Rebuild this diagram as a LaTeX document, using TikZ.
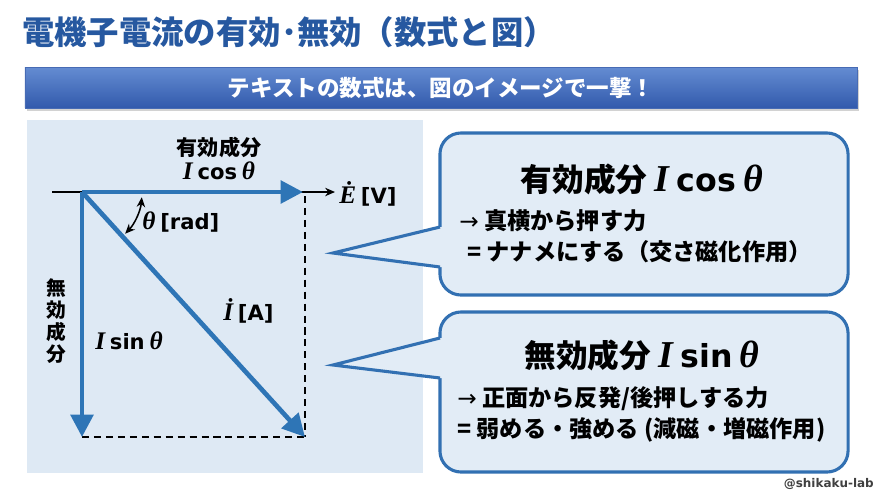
\documentclass[tikz,border=0pt]{standalone}
\usepackage{fontspec}
\usepackage{xcolor}
\usetikzlibrary{arrows.meta,shadows}
\setmainfont{Noto Sans CJK JP}
\newfontfamily\latsans{DejaVu Sans}
\newfontfamily\serifvar{Liberation Serif}[Scale=1.2]
\newcommand{\vi}[1]{{\serifvar\bfseries\itshape #1}}
\newcommand{\rarr}{{\latsans\mdseries →}}
\definecolor{vecBlue}{RGB}{46,117,182}
\definecolor{titleBlue}{RGB}{38,88,160}
\definecolor{panelBlue}{RGB}{222,233,244}
\definecolor{boxFill}{RGB}{226,236,246}
\definecolor{boxLine}{RGB}{50,112,178}
\definecolor{bannerTop}{RGB}{100,140,210}
\definecolor{bannerBottom}{RGB}{50,90,172}

\begin{document}
\begin{tikzpicture}[x=0.025cm, y=-0.025cm,
  vec/.style={vecBlue, line width=3.3pt, -{Triangle[length=16pt,width=16pt]}},
  guide/.style={dashed, dash pattern=on 5pt off 3.5pt, line width=1.1pt},
  callbox/.style={draw=boxLine, fill=boxFill, line width=2.2pt, rounded corners=15pt, minimum width=10.2cm},
  lbl/.style={inner sep=0pt, font=\bfseries\fontsize{15}{18}\selectfont},
  head/.style={inner sep=0pt, font=\bfseries\fontsize{22.5}{26}\selectfont},
  body/.style={inner sep=0pt, anchor=west, font=\bfseries\fontsize{16.5}{19}\selectfont}]
\useasboundingbox (0,0) rectangle (880,495);
\fill[white] (0,0) rectangle (880,495);
%
\node[anchor=west, inner sep=0pt, text=titleBlue, font=\bfseries\fontsize{23}{27}\selectfont] (title) at (22,32) {電機子電流の有効･無効（数式と図）};
\node[top color=bannerTop, bottom color=bannerBottom, draw=bannerBottom!90, line width=0.3pt,
  minimum width=20.8cm, minimum height=1.02cm, text=white, font=\bfseries\fontsize{16}{19}\selectfont,
  drop shadow={opacity=0.35, shadow xshift=1.5pt, shadow yshift=-2pt}] (banner) at (441,87.5) {テキストの数式は、図のイメージで一撃！};

%
\fill[panelBlue] (27,120) rectangle (423,473);
\coordinate (O) at (82,192);
\coordinate (axL) at (52,192);
\coordinate (axR) at (335,192);
\coordinate (Ecos) at (303,192);
\coordinate (Isin) at (82,437);
\coordinate (Itip) at (305,437);
\coordinate (Etop) at (305,196);
\draw[line width=1pt, -{Stealth[length=7pt,width=6pt]}] (axL) -- (axR);
\draw[guide] (Etop) -- (Itip);
\draw[guide] (Isin) -- (Itip);
\draw[vec] (O) -- (Ecos);
\draw[vec] (O) -- (Isin);
\draw[vec] (O) -- (Itip);
\draw[line width=1.1pt, {Stealth[length=7pt,width=6pt]}-{Stealth[length=7pt,width=6pt]}] ([shift={(5:60)}]O) arc[start angle=5, end angle=44, radius=60];

\node[lbl] (reLbl) at (219,147) {有効成分};
\node[lbl] (reFrm) at (219,171) {\vi{I} {\latsans cos} \vi{θ}};
\node[lbl, anchor=west] (thLbl) at (142,222) {\vi{θ} {\latsans [rad]}};
\node[lbl, anchor=west] (eLbl) at (339,194) {\vi{Ė} {\latsans [V]}};
\node[lbl, anchor=west] (iLbl) at (223,311) {\vi{İ} {\latsans [A]}};
\node[lbl, anchor=west] (imFrm) at (95,341) {\vi{I} {\latsans sin} \vi{θ}};
\node[lbl, align=center, font=\bfseries\fontsize{14}{15.6}\selectfont] (imLbl) at (56,321) {\lineskiplimit=-20pt 無\\効\\成\\分};

%
\node[callbox, minimum height=4.05cm] (c1) at (644,214) {};
\coordinate (p1a) at (440,227);
\coordinate (p1tip) at (333,253);
\coordinate (p1b) at (440,267);
\fill[boxFill] (p1a) -- (p1tip) -- (p1b) -- (444,267) -- (444,227) -- cycle;
\draw[boxLine, line width=2.2pt, line join=miter] (p1a) -- (p1tip) -- (p1b);
\node[head] (c1h) at (642,179) {有効成分 \vi{I} {\latsans cos} \vi{θ}};
\node[body] (c1a) at (459,221) {\rarr\ 真横から押す力};
\node[body] (c1b) at (467,252) {= ナナメにする（交さ磁化作用）};

%
\node[callbox, minimum height=4.0cm] (c2) at (644,392) {};
\coordinate (p2a) at (440,338);
\coordinate (p2tip) at (333,365);
\coordinate (p2b) at (440,378);
\fill[boxFill] (p2a) -- (p2tip) -- (p2b) -- (444,378) -- (444,338) -- cycle;
\draw[boxLine, line width=2.2pt, line join=miter] (p2a) -- (p2tip) -- (p2b);
\node[head] (c2h) at (642,355) {無効成分 \vi{I} {\latsans sin} \vi{θ}};
\node[body] (c2a) at (457,399) {\rarr\ 正面から反発/後押しする力};
\node[body] (c2b) at (457,430) {= 弱める・強める (減磁・増磁作用)};

\node[anchor=east, inner sep=0pt, text=black!75, font=\latsans\bfseries\fontsize{8.5}{10}\selectfont] (mark) at (874,484) {@shikaku-lab};
\end{tikzpicture}
\end{document}
